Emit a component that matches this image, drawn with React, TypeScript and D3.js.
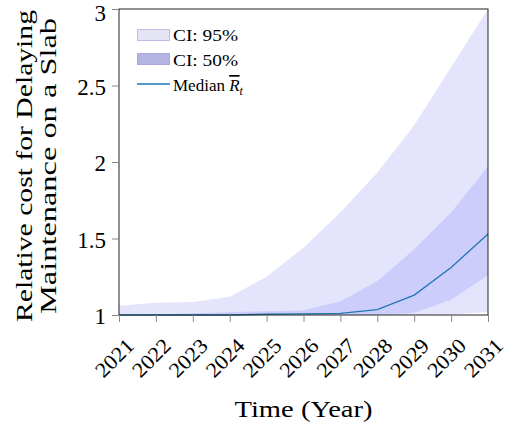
import { useEffect, useRef } from "react";
import * as d3 from "d3";

const years = [2021, 2022, 2023, 2024, 2025, 2026, 2027, 2028, 2029, 2030, 2031];
const ci95Low = [1.0, 1.0, 1.0, 1.0, 1.0, 1.0, 1.0, 1.0, 1.0, 1.003, 1.02];
const ci95High = [1.06, 1.08, 1.085, 1.12, 1.25, 1.44, 1.67, 1.93, 2.24, 2.62, 3.0];
const ci50Low = [1.0, 1.0, 1.0, 1.0, 1.0, 1.0, 1.0, 1.0, 1.015, 1.1, 1.26];
const ci50High = [1.0, 1.005, 1.01, 1.02, 1.025, 1.03, 1.09, 1.22, 1.43, 1.67, 1.97];
const median = [1.0, 1.0, 1.0, 1.0, 1.005, 1.008, 1.01, 1.035, 1.13, 1.31, 1.53];
const yTicks = [1, 1.5, 2, 2.5, 3];
const legendLabels = ["CI: 95%", "CI: 50%"];

const W = 508;
const H = 430;
const margin = { top: 9, right: 20, bottom: 115, left: 119 };
const font = '"Liberation Serif", "DejaVu Serif", serif';

const App = () => {
  const svgRef = useRef<SVGSVGElement>(null);

  useEffect(() => {
    const svg = d3.select(svgRef.current);
    svg.selectAll("*").remove();

    const x = d3
      .scaleLinear()
      .domain([2021, 2031])
      .range([margin.left, W - margin.right]);
    const y = d3
      .scaleLinear()
      .domain([1, 3])
      .range([H - margin.bottom, margin.top]);

    const idx = years.map((_, i) => i);
    const band = (lo: number[], hi: number[]) =>
      d3
        .area<number>()
        .x((i) => x(years[i]))
        .y0((i) => y(lo[i]))
        .y1((i) => y(hi[i]))(idx);

    svg.append("path").attr("d", band(ci95Low, ci95High)).attr("fill", "#e4e4fc");
    svg.append("path").attr("d", band(ci50Low, ci50High)).attr("fill", "#cdcdfb");

    const line = d3
      .line<number>()
      .x((i) => x(years[i]))
      .y((i) => y(median[i]));
    svg
      .append("path")
      .attr("d", line(idx))
      .attr("fill", "none")
      .attr("stroke", "#1f77b4")
      .attr("stroke-width", 1.3);

    // frame
    svg
      .append("rect")
      .attr("x", margin.left)
      .attr("y", margin.top)
      .attr("width", W - margin.left - margin.right)
      .attr("height", H - margin.top - margin.bottom)
      .attr("fill", "none")
      .attr("stroke", "#222")
      .attr("stroke-width", 1);

    // y axis
    const yAxis = svg
      .append("g")
      .attr("transform", `translate(${margin.left},0)`)
      .call(
        d3
          .axisLeft(y)
          .tickValues(yTicks)
          .tickSize(7)
          .tickPadding(6)
          .tickFormat((d) => String(d))
      );
    yAxis.select(".domain").remove();
    yAxis.selectAll("line").attr("stroke", "#888");
    yAxis
      .selectAll<SVGTextElement, number>("text")
      .style("font-family", font)
      .style("font-size", "23px")
      .attr("fill", "#000")
      .attr("dy", 0)
      .attr("y", (d) => (d === 3 ? 4 : 1))
      .attr("dominant-baseline", "central");

    // x axis
    const xAxis = svg
      .append("g")
      .attr("transform", `translate(0,${H - margin.bottom})`)
      .call(
        d3
          .axisBottom(x)
          .tickValues(years)
          .tickSize(7)
          .tickFormat((d) => String(d))
      );
    xAxis.select(".domain").remove();
    xAxis.selectAll("line").attr("stroke", "#888");
    xAxis
      .selectAll("text")
      .style("font-family", font)
      .style("font-size", "21px")
      .attr("fill", "#000")
      .attr("text-anchor", "middle")
      .attr("textLength", 45)
      .attr("lengthAdjust", "spacingAndGlyphs")
      .attr("dy", 0)
      .attr("y", 0)
      .attr("transform", "translate(-5,43) rotate(-45)")
      .attr("dominant-baseline", "central");

    // axis titles
    svg
      .append("text")
      .attr("x", (margin.left + W - margin.right) / 2)
      .attr("y", 417)
      .attr("text-anchor", "middle")
      .style("font-family", font)
      .style("font-size", "24px")
      .attr("textLength", 138)
      .attr("lengthAdjust", "spacingAndGlyphs")
      .text("Time (Year)");

    const yl = svg.append("g").attr("transform", `translate(0,166) rotate(-90)`);
    yl.append("text")
      .attr("x", 0)
      .attr("y", 32)
      .attr("text-anchor", "middle")
      .style("font-family", font)
      .style("font-size", "24px")
      .attr("textLength", 312)
      .attr("lengthAdjust", "spacingAndGlyphs")
      .text("Relative cost for Delaying");
    yl.append("text")
      .attr("x", 0)
      .attr("y", 56)
      .attr("text-anchor", "middle")
      .style("font-family", font)
      .style("font-size", "24px")
      .attr("textLength", 296)
      .attr("lengthAdjust", "spacingAndGlyphs")
      .text("Maintenance on a Slab");

    // legend
    const lg = svg.append("g").attr("transform", "translate(137,29)");
    lg.append("rect")
      .attr("x", 0.5)
      .attr("y", 0.5)
      .attr("width", 32)
      .attr("height", 11)
      .attr("fill", "#e4e4f4")
      .attr("stroke", "#bdbde6")
      .attr("stroke-width", 1);
    lg.append("rect")
      .attr("x", 0.5)
      .attr("y", 24.5)
      .attr("width", 32)
      .attr("height", 11)
      .attr("fill", "#b4b4e0")
      .attr("stroke", "#a8a8dc")
      .attr("stroke-width", 1);
    lg.append("line")
      .attr("x1", 0)
      .attr("x2", 33)
      .attr("y1", 55)
      .attr("y2", 55)
      .attr("stroke", "#1f77b4")
      .attr("stroke-width", 1.3);
    legendLabels.forEach((t, i) => {
      lg.append("text")
        .attr("x", 36)
        .attr("y", 12 + i * 25)
        .style("font-family", font)
        .style("font-size", "17px")
        .attr("textLength", 65)
        .attr("lengthAdjust", "spacingAndGlyphs")
        .text(t);
    });
    const med = lg
      .append("text")
      .attr("x", 36)
      .attr("y", 62)
      .style("font-family", font)
      .style("font-size", "17px");
    med.append("tspan").text("Median ");
    med
      .append("tspan")
      .attr("font-style", "italic")
      .style("text-decoration", "overline")
      .text("R");
    med
      .append("tspan")
      .attr("font-style", "italic")
      .style("font-size", "12px")
      .attr("dy", 4)
      .text("t");
  }, []);

  return (
    <svg
      ref={svgRef}
      width={W}
      height={H}
      style={{ position: "absolute", left: 0, top: 0, background: "#fff" }}
    ></svg>
  );
};

export default App;
